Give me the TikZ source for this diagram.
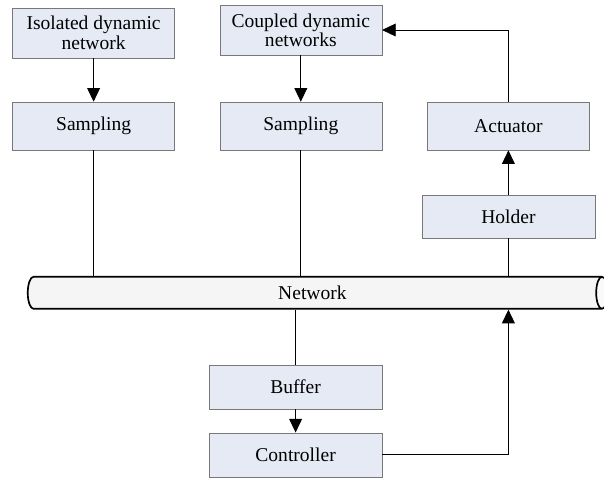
\documentclass[tikz,border=0pt]{standalone}
\usepackage{fontspec}
\setmainfont{Liberation Serif}
\newfontfamily\diagfont[Scale=1.39]{Liberation Serif}
\usetikzlibrary{arrows.meta, shapes.geometric}
\definecolor{boxfill}{RGB}{229,234,245}
\definecolor{boxline}{RGB}{120,120,120}

\begin{document}
\begin{tikzpicture}[
				font=\diagfont,
				block/.style={draw=boxline, fill=boxfill, rectangle, minimum width=4.05cm, minimum height=1.2cm, align=center, inner sep=1pt, font=\diagfont},
				bus/.style={draw, line width=1.2pt, cylinder, shape aspect=0.5, minimum width=0.8cm, minimum height=14.5cm, cylinder uses custom fill, cylinder body fill=black!4, cylinder end fill=black!2, font=\diagfont},
				arrow/.style={-{Triangle[length=3.4mm, width=3.2mm]}, semithick},
				link/.style={semithick}
				]
				
				\useasboundingbox (0,0) rectangle (15.1,-11.95);
				
				% Upper blocks
				\node[block, minimum height=1.25cm] (iso) at (2.34,-0.82) {Isolated dynamic\\network};
				\node[block, minimum height=1.25cm] (coupled) at (7.52,-0.75) {Coupled dynamic\\networks};
				\node[block] (samp1) at (2.34,-3.15) {Sampling};
				\node[block] (samp2) at (7.52,-3.15) {Sampling};
				\node[block] (act) at (12.71,-3.15) {Actuator};
				\node[block, minimum width=4.33cm, minimum height=1.08cm] (hold) at (12.71,-5.41) {Holder};
				
				% Network bus
				\node[bus] (net) at (7.81,-7.32) {Network};
				
				% Lower blocks
				\node[block, minimum width=4.33cm, minimum height=1.1cm] (buf) at (7.39,-9.67) {Buffer};
				\node[block, minimum width=4.33cm, minimum height=1.1cm] (ctrl) at (7.39,-11.37) {Controller};
				
				% Sensor side
				\draw[arrow] (iso) -- (samp1);
				\draw[arrow] (coupled) -- (samp2);
				\draw[link] (samp1.south) -- (samp1.south |- net.north);
				\draw[link] (samp2.south) -- (samp2.south |- net.north);
				
				% Actuator side
				\draw[link] (hold.south) -- (hold.south |- net.north);
				\draw[arrow] (hold) -- (act);
				\draw[arrow] (act.north) |- (coupled.east);
				
				% Controller loop
				\draw[link] (buf.north |- net.south) -- (buf.north);
				\draw[arrow] (buf) -- (ctrl);
				\draw[arrow] (ctrl.east) -| (hold.south |- net.south);
				
			\end{tikzpicture}
\end{document}
